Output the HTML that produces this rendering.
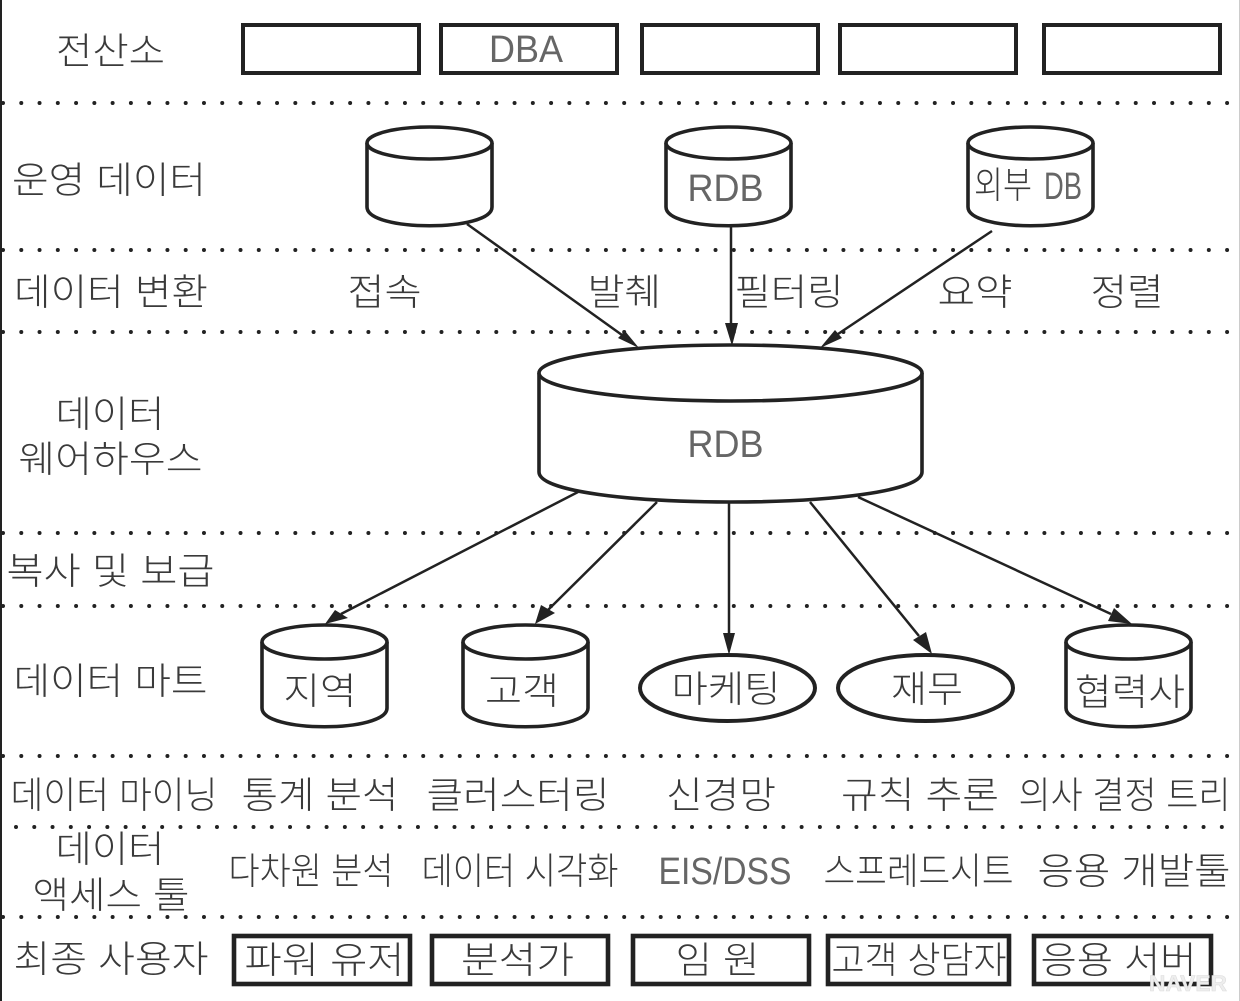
<!DOCTYPE html>
<html><head><meta charset="utf-8"><style>
html,body{margin:0;padding:0;background:#fff}
svg{display:block}
text{font-family:"Liberation Sans","Noto Sans CJK KR",sans-serif;font-size:37px;fill:#3a3a3a;text-anchor:middle;font-weight:300}
text.e{font-size:38px;fill:#666}
.s{fill:#fff;stroke:#222;stroke-width:4}
.b{fill:#fff;stroke:#222;stroke-width:4.6}
.c{fill:#fff;stroke:#222;stroke-width:3.6}
.l{stroke:#222;stroke-width:2.5;fill:none}
.d{stroke:#222;stroke-width:4;stroke-dasharray:0 18.27;stroke-linecap:round;fill:none}
.h{fill:#222;stroke:none}
</style></head><body>
<svg width="1240" height="1001" viewBox="0 0 1240 1001" xmlns="http://www.w3.org/2000/svg">
<rect width="1240" height="1001" fill="#fff"/>
<line x1="1" y1="0" x2="1" y2="1001" stroke="#222" stroke-width="2"/>
<line x1="1239.500" y1="0" x2="1239.500" y2="1001" stroke="#ccc" stroke-width="1"/>
<path class="d" d="M3 103H1240"/><path class="d" d="M3 250H1240"/><path class="d" d="M3 332H1240"/>
<path class="d" d="M3 533H1240"/><path class="d" d="M3 606H1240"/><path class="d" d="M3 756H1240"/>
<path class="d" d="M16 827H1240"/><path class="d" d="M3 917H1240"/>
<rect class="s" x="243" y="25" width="176" height="48"/>
<rect class="s" x="441" y="25" width="176" height="48"/>
<rect class="s" x="642" y="25" width="176" height="48"/>
<rect class="s" x="840" y="25" width="176" height="48"/>
<rect class="s" x="1044" y="25" width="176" height="48"/>
<!-- cylinders -->
<path class="c" d="M367 143V207C367 232 492 232 492 207V143"/>
<ellipse class="c" cx="429.500" cy="143" rx="62.500" ry="16"/>
<path class="c" d="M666 143V207C666 232 791 232 791 207V143"/>
<ellipse class="c" cx="728.500" cy="143" rx="62.500" ry="16"/>
<path class="c" d="M968 143V207C968 232 1093 232 1093 207V143"/>
<ellipse class="c" cx="1030.500" cy="143" rx="62.500" ry="16"/>
<path class="c" d="M539 373V472C539 512 922 512 922 472V373"/>
<ellipse class="c" cx="730.500" cy="373" rx="191.500" ry="28"/>
<path class="c" d="M262 642V708C262 733 387 733 387 708V642"/>
<ellipse class="c" cx="324.500" cy="642" rx="62.500" ry="17"/>
<path class="c" d="M463 642V708C463 733 588 733 588 708V642"/>
<ellipse class="c" cx="525.500" cy="642" rx="62.500" ry="17"/>
<path class="c" d="M1066 642V708C1066 733 1191 733 1191 708V642"/>
<ellipse class="c" cx="1128.500" cy="642" rx="62.500" ry="17"/>
<ellipse class="s" cx="727.500" cy="688" rx="87.500" ry="33"/>
<ellipse class="s" cx="925.500" cy="688" rx="87.500" ry="33"/>
<!-- connectors -->
<path class="l" d="M467 224L622 335M731 226V330M992 231L838 334M578 492L341 614M657 502L548 610M729 503V637M810 502L919 636M858 497L1111 614"/>
<path class="h" d="M639 348L618 338L625 331Z"/>
<path class="h" d="M732 346L725 323H738Z"/>
<path class="h" d="M820 348L835 330L842 338Z"/>
<path class="h" d="M325 624L335 610L348 618Z"/>
<path class="h" d="M535 624L541 605L555 613Z"/>
<path class="h" d="M729 655L723 633H735Z"/>
<path class="h" d="M932 654L913 640L926 632Z"/>
<path class="h" d="M1132 624L1108 621L1114 608Z"/>
<rect class="b" x="234" y="936" width="176" height="48"/>
<rect class="b" x="432" y="936" width="176" height="48"/>
<rect class="b" x="633" y="936" width="176" height="48"/>
<rect class="b" x="828" y="936" width="181" height="48"/>
<rect class="b" x="1034" y="936" width="177" height="48"/>
<!-- labels -->
<text x="110.500" y="64" textLength="109" lengthAdjust="spacingAndGlyphs">전산소</text>
<text class="e" x="526" y="62" textLength="74" lengthAdjust="spacingAndGlyphs">DBA</text>
<text x="109" y="193" textLength="194" lengthAdjust="spacingAndGlyphs">운영 데이터</text>
<text class="e" x="725.500" y="201" textLength="76" lengthAdjust="spacingAndGlyphs">RDB</text>
<text x="1003" y="198" textLength="58" lengthAdjust="spacingAndGlyphs">외부</text>
<text class="e" x="1063" y="199" textLength="38" lengthAdjust="spacingAndGlyphs">DB</text>
<text x="111" y="305" textLength="194" lengthAdjust="spacingAndGlyphs">데이터 변환</text>
<text x="384.500" y="305" textLength="74" lengthAdjust="spacingAndGlyphs">접속</text>
<text x="624.500" y="305" textLength="74" lengthAdjust="spacingAndGlyphs">발췌</text>
<text x="789" y="305" textLength="109" lengthAdjust="spacingAndGlyphs">필터링</text>
<text x="975" y="305" textLength="75" lengthAdjust="spacingAndGlyphs">요약</text>
<text x="1127" y="305" textLength="73" lengthAdjust="spacingAndGlyphs">정렬</text>
<text x="110" y="427" textLength="109" lengthAdjust="spacingAndGlyphs">데이터</text>
<text x="110.500" y="472" textLength="184" lengthAdjust="spacingAndGlyphs">웨어하우스</text>
<text class="e" x="725.500" y="457" textLength="76" lengthAdjust="spacingAndGlyphs">RDB</text>
<text x="110.500" y="584" textLength="208" lengthAdjust="spacingAndGlyphs">복사 및 보급</text>
<text x="110.500" y="694" textLength="194" lengthAdjust="spacingAndGlyphs">데이터 마트</text>
<text x="320" y="704" textLength="73" lengthAdjust="spacingAndGlyphs">지역</text>
<text x="522" y="704" textLength="74" lengthAdjust="spacingAndGlyphs">고객</text>
<text x="726" y="702" textLength="109" lengthAdjust="spacingAndGlyphs">마케팅</text>
<text x="927" y="702" textLength="72" lengthAdjust="spacingAndGlyphs">재무</text>
<text x="1130" y="705" textLength="110" lengthAdjust="spacingAndGlyphs">협력사</text>
<text x="114" y="808" textLength="207" lengthAdjust="spacingAndGlyphs">데이터 마이닝</text>
<text x="320" y="808" textLength="157" lengthAdjust="spacingAndGlyphs">통계 분석</text>
<text x="518" y="808" textLength="183" lengthAdjust="spacingAndGlyphs">클러스터링</text>
<text x="721" y="808" textLength="110" lengthAdjust="spacingAndGlyphs">신경망</text>
<text x="920" y="808" textLength="158" lengthAdjust="spacingAndGlyphs">규칙 추론</text>
<text x="1124.500" y="808" textLength="212" lengthAdjust="spacingAndGlyphs">의사 결정 트리</text>
<text x="110" y="862" textLength="109" lengthAdjust="spacingAndGlyphs">데이터</text>
<text x="111" y="908" textLength="157" lengthAdjust="spacingAndGlyphs">액세스 툴</text>
<text x="311" y="884" textLength="165" lengthAdjust="spacingAndGlyphs">다차원 분석</text>
<text x="520" y="884" textLength="197" lengthAdjust="spacingAndGlyphs">데이터 시각화</text>
<text class="e" x="725" y="884" textLength="133" lengthAdjust="spacingAndGlyphs">EIS/DSS</text>
<text x="918.500" y="884" textLength="190" lengthAdjust="spacingAndGlyphs">스프레드시트</text>
<text x="1134" y="884" textLength="193" lengthAdjust="spacingAndGlyphs">응용 개발툴</text>
<text x="111" y="972" textLength="195" lengthAdjust="spacingAndGlyphs">최종 사용자</text>
<text x="324.500" y="973" textLength="160" lengthAdjust="spacingAndGlyphs">파워 유저</text>
<text x="517.500" y="973" textLength="113" lengthAdjust="spacingAndGlyphs">분석가</text>
<text x="717.500" y="973" textLength="84" lengthAdjust="spacingAndGlyphs">임 원</text>
<text x="919" y="973" textLength="175" lengthAdjust="spacingAndGlyphs">고객 상담자</text>
<text x="1118.500" y="973" textLength="156" lengthAdjust="spacingAndGlyphs">응용 서버</text>
<text x="1188" y="991" textLength="78" lengthAdjust="spacingAndGlyphs" style="font-size:22px;font-weight:700;fill:#eee;stroke:#ddd;stroke-width:.6">NAVER</text>
</svg>
</body></html>
